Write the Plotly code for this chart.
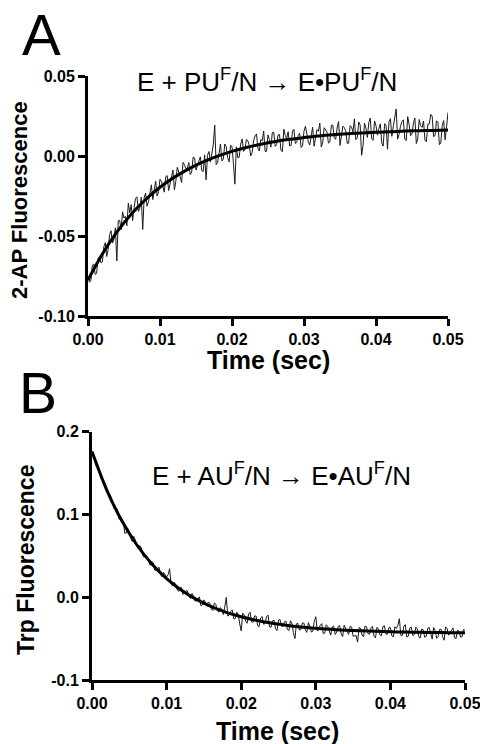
import plotly.graph_objects as go

W, H = 480, 744

# ---------------- data ----------------
# samples every 0.0004 s (grid) plus the samples halfway between them (mid)
time_grid = [round(i * 0.0004, 4) for i in range(126)]
time_mid = [round(i * 0.0004 + 0.0002, 4) for i in range(125)]
time_fit = [round(i * 0.002, 3) for i in range(26)]

ap_grid = [
    -0.0755, -0.0780, -0.0676, -0.0733, -0.0632, -0.0662, -0.0542, -0.0584, -0.0467, -0.0521,
    -0.0656, -0.0402, -0.0349, -0.0377, -0.0295, -0.0304, -0.0324, -0.0255, -0.0327, -0.0459,
    -0.0232, -0.0285, -0.0180, -0.0204, -0.0250, -0.0145, -0.0192, -0.0129, -0.0216, -0.0114,
    -0.0212, -0.0071, -0.0130, -0.0040, -0.0080, -0.0040, -0.0101, -0.0012, -0.0063, -0.0005,
    -0.0097, -0.0149, 0.0028, 0.0006, 0.0193, -0.0041, 0.0075, -0.0018, 0.0058, -0.0037,
    0.0059, -0.0176, -0.0011, 0.0074, 0.0029, 0.0103, 0.0067, 0.0022, 0.0126, 0.0049,
    0.0103, 0.0156, 0.0030, 0.0103, 0.0146, 0.0060, 0.0132, 0.0035, 0.0168, 0.0110,
    0.0064, 0.0156, 0.0078, 0.0130, 0.0053, 0.0155, 0.0127, 0.0068, 0.0180, 0.0102,
    0.0155, 0.0056, 0.0177, 0.0149, 0.0090, 0.0193, 0.0104, 0.0215, 0.0116, 0.0177,
    0.0079, 0.0190, 0.0151, 0.0102, 0.0213, 0.0004, 0.0205, 0.0116, 0.0237, 0.0098,
    0.0189, 0.0170, 0.0081, 0.0202, 0.0042, 0.0233, 0.0184, 0.0294, 0.0135, 0.0215,
    0.0106, 0.0246, 0.0127, 0.0207, 0.0078, 0.0228, 0.0179, 0.0099, 0.0199, 0.0260,
    0.0120, 0.0220, 0.0071, 0.0191, 0.0101, 0.0272,
]
ap_mid = [
    -0.0788, -0.0683, -0.0740, -0.0638, -0.0667, -0.0567, -0.0628, -0.0491, -0.0544, -0.0449,
    -0.0404, -0.0461, -0.0388, -0.0436, -0.0355, -0.0404, -0.0265, -0.0346, -0.0258, -0.0261,
    -0.0314, -0.0218, -0.0272, -0.0157, -0.0223, -0.0159, -0.0226, -0.0123, -0.0170, -0.0088,
    -0.0157, -0.0096, -0.0165, -0.0055, -0.0075, -0.0116, -0.0007, -0.0088, -0.0029, -0.0091,
    0.0007, 0.0004, -0.0038, 0.0069, -0.0054, 0.0022, -0.0031, 0.0075, -0.0009, 0.0066,
    -0.0048, 0.0057, -0.0008, 0.0107, 0.0041, 0.0095, 0.0000, 0.0094, 0.0138, 0.0031,
    0.0095, 0.0028, 0.0132, 0.0055, 0.0148, 0.0071, 0.0134, 0.0027, 0.0129, 0.0152,
    0.0065, 0.0167, 0.0089, 0.0142, 0.0064, 0.0186, 0.0088, 0.0139, 0.0061, 0.0164,
    0.0206, 0.0087, 0.0158, 0.0080, 0.0192, 0.0114, 0.0175, 0.0066, 0.0187, 0.0158,
    0.0080, 0.0181, 0.0232, 0.0113, 0.0194, 0.0065, 0.0176, 0.0207, 0.0108, 0.0219,
    0.0130, 0.0201, 0.0062, 0.0192, 0.0213, 0.0123, 0.0254, 0.0105, 0.0185, 0.0226,
    0.0096, 0.0197, 0.0137, 0.0238, 0.0108, 0.0189, 0.0219, 0.0089, 0.0200, 0.0250,
    0.0130, 0.0211, 0.0081, 0.0221, 0.0182,
]
ap_fit = [
    -0.0775, -0.0612, -0.0476, -0.0364, -0.0272, -0.0195, -0.0132, -0.0080, -0.0037,
    -0.0001, 0.0029, 0.0053, 0.0073, 0.0090, 0.0104, 0.0115, 0.0125, 0.0133, 0.0139,
    0.0144, 0.0149, 0.0152, 0.0156, 0.0158, 0.0160, 0.0162,
]

trp_grid = [
    0.1760, 0.1637, 0.1579, 0.1436, 0.1387, 0.1272, 0.1241, 0.1124, 0.1080, 0.0950,
    0.0903, 0.0770, 0.0829, 0.0711, 0.0736, 0.0614, 0.0623, 0.0506, 0.0510, 0.0437,
    0.0435, 0.0326, 0.0348, 0.0273, 0.0299, 0.0246, 0.0345, 0.0136, 0.0157, 0.0071,
    0.0115, 0.0051, 0.0077, -0.0015, 0.0014, -0.0046, 0.0005, -0.0093, -0.0061, -0.0057,
    -0.0143, -0.0068, -0.0163, -0.0126, -0.0209, -0.0002, -0.0214, -0.0155, -0.0256, -0.0206,
    -0.0406, -0.0215, -0.0314, -0.0182, -0.0301, -0.0228, -0.0356, -0.0233, -0.0319, -0.0216,
    -0.0362, -0.0277, -0.0403, -0.0268, -0.0353, -0.0288, -0.0402, -0.0316, -0.0500, -0.0314,
    -0.0389, -0.0312, -0.0425, -0.0348, -0.0411, -0.0235, -0.0397, -0.0319, -0.0432, -0.0354,
    -0.0458, -0.0349, -0.0421, -0.0343, -0.0475, -0.0378, -0.0449, -0.0360, -0.0462, -0.0543,
    -0.0376, -0.0477, -0.0358, -0.0449, -0.0350, -0.0492, -0.0383, -0.0464, -0.0345, -0.0446,
    -0.0367, -0.0478, -0.0378, -0.0259, -0.0459, -0.0330, -0.0471, -0.0361, -0.0452, -0.0383,
    -0.0494, -0.0394, -0.0475, -0.0365, -0.0506, -0.0406, -0.0477, -0.0388, -0.0519, -0.0380,
    -0.0431, -0.0370, -0.0499, -0.0409, -0.0479, -0.0400,
]
trp_mid = [
    0.1729, 0.1578, 0.1523, 0.1402, 0.1365, 0.1242, 0.1193, 0.1067, 0.1065, 0.0937,
    0.0922, 0.0780, 0.0790, 0.0674, 0.0690, 0.0589, 0.0600, 0.0483, 0.0489, 0.0386,
    0.0416, 0.0327, 0.0361, 0.0246, 0.0263, 0.0271, 0.0161, 0.0182, 0.0094, 0.0118,
    0.0033, 0.0079, 0.0006, 0.0045, -0.0046, -0.0016, -0.0104, -0.0032, -0.0109, -0.0075,
    -0.0161, -0.0086, -0.0180, -0.0143, -0.0116, -0.0228, -0.0170, -0.0261, -0.0181, -0.0321,
    -0.0191, -0.0290, -0.0198, -0.0297, -0.0225, -0.0342, -0.0250, -0.0326, -0.0233, -0.0359,
    -0.0285, -0.0380, -0.0276, -0.0351, -0.0296, -0.0390, -0.0284, -0.0428, -0.0322, -0.0397,
    -0.0311, -0.0394, -0.0307, -0.0420, -0.0293, -0.0406, -0.0338, -0.0441, -0.0333, -0.0406,
    -0.0359, -0.0450, -0.0352, -0.0444, -0.0337, -0.0429, -0.0350, -0.0471, -0.0463, -0.0365,
    -0.0457, -0.0348, -0.0439, -0.0370, -0.0471, -0.0363, -0.0454, -0.0355, -0.0446, -0.0367,
    -0.0468, -0.0358, -0.0339, -0.0460, -0.0350, -0.0481, -0.0371, -0.0462, -0.0362, -0.0473,
    -0.0384, -0.0484, -0.0375, -0.0455, -0.0366, -0.0496, -0.0387, -0.0477, -0.0358, -0.0458,
    -0.0388, -0.0489, -0.0399, -0.0480, -0.0390,
]
trp_fit = [
    0.1760, 0.1292, 0.0923, 0.0634, 0.0405, 0.0226, 0.0085, -0.0026, -0.0113,
    -0.0182, -0.0236, -0.0278, -0.0312, -0.0338, -0.0359, -0.0375, -0.0388, -0.0398,
    -0.0406, -0.0412, -0.0417, -0.0421, -0.0424, -0.0426, -0.0428, -0.0430,
]

x_ticks = [0.00, 0.01, 0.02, 0.03, 0.04, 0.05]
x_ticktext = ["0.00", "0.01", "0.02", "0.03", "0.04", "0.05"]
a_yticks = [-0.10, -0.05, 0.00, 0.05]
a_yticktext = ["-0.10", "-0.05", "0.00", "0.05"]
b_yticks = [-0.1, 0.0, 0.1, 0.2]
b_yticktext = ["-0.1", "0.0", "0.1", "0.2"]


def interleave(grid, mid):
    out = []
    for g, m in zip(grid, mid):
        out += [g, m]
    out += grid[len(mid):]
    return out


time_data = interleave(time_grid, time_mid)
ap_data = interleave(ap_grid, ap_mid)
trp_data = interleave(trp_grid, trp_mid)

FONT = "Liberation Sans, Arial, Helvetica, sans-serif"


def px_x(p):
    return p / W


def px_y(p):
    return 1 - p / H


fig = go.Figure()
fig.add_trace(go.Scatter(x=time_data, y=ap_data, mode="lines",
                         line=dict(color="#1a1a1a", width=1), xaxis="x", yaxis="y",
                         showlegend=False, hoverinfo="skip"))
fig.add_trace(go.Scatter(x=time_fit, y=ap_fit, mode="lines",
                         line=dict(color="black", width=3, shape="spline"), xaxis="x", yaxis="y",
                         showlegend=False, hoverinfo="skip"))
fig.add_trace(go.Scatter(x=time_data, y=trp_data, mode="lines",
                         line=dict(color="#1a1a1a", width=1), xaxis="x2", yaxis="y2",
                         showlegend=False, hoverinfo="skip"))
fig.add_trace(go.Scatter(x=time_fit, y=trp_fit, mode="lines",
                         line=dict(color="black", width=3, shape="spline"), xaxis="x2", yaxis="y2",
                         showlegend=False, hoverinfo="skip"))

tickfont = dict(family=FONT, size=16, color="black", weight="bold")
common = dict(showline=True, linewidth=3, linecolor="black", ticks="outside",
              ticklen=7, tickwidth=3, tickcolor="black", showgrid=False,
              zeroline=False, tickfont=tickfont, fixedrange=True, automargin=False,
              ticklabeloverflow="allow")

fig.update_layout(
    width=W, height=H,
    margin=dict(l=0, r=0, t=0, b=0),
    paper_bgcolor="white", plot_bgcolor="white",
    xaxis=dict(domain=[px_x(88), px_x(448)], range=[0, 0.05], anchor="y",
               tickvals=x_ticks, ticktext=x_ticktext, **common),
    yaxis=dict(domain=[px_y(316), px_y(76)], range=[-0.10, 0.05], anchor="x",
               tickvals=a_yticks, ticktext=a_yticktext, **common),
    xaxis2=dict(domain=[px_x(92), px_x(465)], range=[0, 0.05], anchor="y2",
                tickvals=x_ticks, ticktext=x_ticktext, **common),
    yaxis2=dict(domain=[px_y(680), px_y(431.7)], range=[-0.1, 0.2], anchor="x2",
                tickvals=b_yticks, ticktext=b_yticktext, **common),
)

ann = []
# panel letters
ann.append(dict(text="A", x=px_x(20), y=px_y(35), xanchor="left", yanchor="middle",
                font=dict(family=FONT, size=58, color="black")))
ann.append(dict(text="B", x=px_x(17), y=px_y(393), xanchor="left", yanchor="middle",
                font=dict(family=FONT, size=57, color="black")))
# reaction labels
ann.append(dict(text="E + PU<sup>F</sup>/N \u2192 E\u2022PU<sup>F</sup>/N",
                x=px_x(135), y=px_y(80), xanchor="left", yanchor="middle",
                font=dict(family=FONT, size=26, color="black")))
ann.append(dict(text="E + AU<sup>F</sup>/N \u2192 E\u2022AU<sup>F</sup>/N",
                x=px_x(150), y=px_y(474), xanchor="left", yanchor="middle",
                font=dict(family=FONT, size=26, color="black")))
# axis titles
ann.append(dict(text="Time (sec)", x=px_x(268), y=px_y(360), xanchor="center", yanchor="middle",
                font=dict(family=FONT, size=25, color="black", weight="bold")))
ann.append(dict(text="Time (sec)", x=px_x(277), y=px_y(731), xanchor="center", yanchor="middle",
                font=dict(family=FONT, size=25, color="black", weight="bold")))
ann.append(dict(text="2-AP Fluorescence", x=px_x(19), y=px_y(200), xanchor="center", yanchor="middle",
                textangle=-90, font=dict(family=FONT, size=22, color="black", weight="bold")))
ann.append(dict(text="Trp Fluorescence", x=px_x(26), y=px_y(560), xanchor="center", yanchor="middle",
                textangle=-90, font=dict(family=FONT, size=23, color="black", weight="bold")))

for a in ann:
    a.update(xref="paper", yref="paper", showarrow=False)
fig.update_layout(annotations=ann)

fig.write_html("out.html",
               config={"displayModeBar": False, "staticPlot": True},
               post_script="document.body.style.margin='0';document.body.style.padding='0';"
                           "document.body.style.overflow='hidden';")
